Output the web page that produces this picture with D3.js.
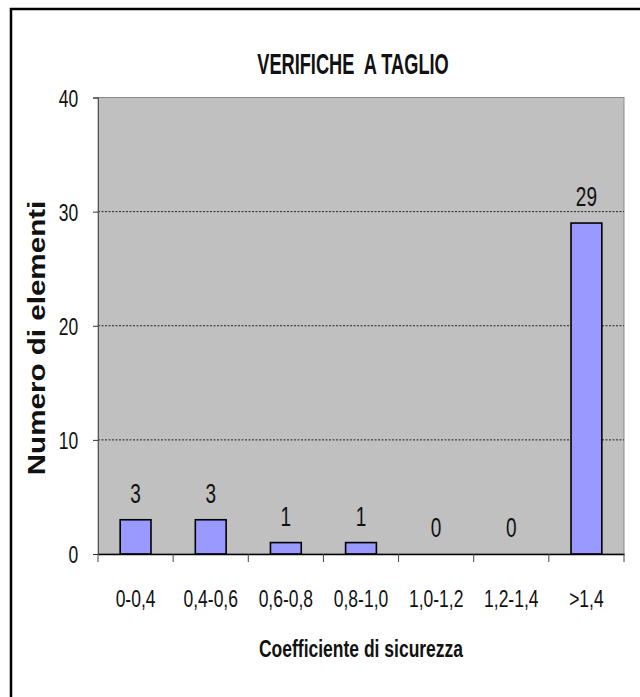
<!DOCTYPE html>
<html>
<head>
<meta charset="utf-8">
<script src="https://cdn.jsdelivr.net/npm/d3@7"></script>
<style>
  html, body { margin: 0; padding: 0; background: #fff; }
  svg { display: block; }
  text { font-family: "Liberation Sans", Arial, sans-serif; fill: #111; }
</style>
</head>
<body>
<svg id="chart" width="640" height="697"></svg>
<script>
// Shear-check results grouped by safety-factor range
const categories = ["0-0,4", "0,4-0,6", "0,6-0,8", "0,8-1,0", "1,0-1,2", "1,2-1,4", ">1,4"];
const counts = [3, 3, 1, 1, 0, 0, 29];
const yTicks = [0, 10, 20, 30, 40];
const chartTitle = "VERIFICHE  A TAGLIO";
const xTitle = "Coefficiente di sicurezza";
const yTitle = "Numero di elementi";

const svg = d3.select("#chart");

// outer chart frame
svg.append("rect")
  .attr("x", 11).attr("y", 9)
  .attr("width", 800).attr("height", 800)
  .attr("fill", "none").attr("stroke", "#000").attr("stroke-width", 2.5);

const plot = { left: 98, right: 624, top: 97.5, bottom: 554 };

const x = d3.scaleBand()
  .domain(categories)
  .range([plot.left, plot.right])
  .paddingInner(0).paddingOuter(0);

const y = d3.scaleLinear()
  .domain([0, 40])
  .range([plot.bottom, plot.top]);

// plot background
svg.append("rect")
  .attr("x", plot.left).attr("y", plot.top)
  .attr("width", plot.right - plot.left).attr("height", plot.bottom - plot.top)
  .attr("fill", "#c0c0c0").attr("stroke", "#8a8a8a").attr("stroke-width", 1);

// dashed gridlines
svg.append("g")
  .selectAll("line")
  .data(yTicks.filter(d => d > 0 && d < 40))
  .join("line")
  .attr("x1", plot.left).attr("x2", plot.right)
  .attr("y1", d => y(d)).attr("y2", d => y(d))
  .attr("stroke", "#222").attr("stroke-width", 1)
  .attr("stroke-dasharray", "2,1.5");

// bars
const barW = x.bandwidth() * 0.41;
svg.append("g")
  .selectAll("rect")
  .data(categories.map((c, i) => ({ c, v: counts[i] })))
  .join("rect")
  .attr("x", d => x(d.c) + (x.bandwidth() - barW) / 2)
  .attr("y", d => y(d.v))
  .attr("width", barW)
  .attr("height", d => y(0) - y(d.v))
  .attr("fill", "#9999ff")
  .attr("stroke", "#000").attr("stroke-width", 1.6);

// value labels
svg.append("g")
  .selectAll("text")
  .data(categories.map((c, i) => ({ c, v: counts[i] })))
  .join("text")
  .attr("transform", d => `translate(${x(d.c) + x.bandwidth() / 2},${y(d.v) - 17}) scale(1,1.45)`)
  .attr("text-anchor", "middle")
  .attr("font-size", 19)
  .text(d => d.v);

// y axis
const yAxis = svg.append("g")
  .attr("transform", `translate(${plot.left},0)`)
  .call(d3.axisLeft(y).tickValues(yTicks).tickSize(5).tickPadding(14.7));
yAxis.select(".domain").attr("stroke", "#555");
yAxis.selectAll(".tick line").attr("stroke", "#333");
yAxis.selectAll(".tick text")
  .attr("font-size", 17.5)
  .attr("fill", "#111")
  .attr("dy", "0.36em")
  .attr("transform", "scale(1,1.35)")
  .attr("y", 0);

// x axis
const xAxis = svg.append("g")
  .attr("transform", `translate(0,${plot.bottom})`)
  .call(d3.axisBottom(x).tickSize(0).tickPadding(0));
xAxis.select(".domain").attr("stroke", "#000").attr("stroke-width", 1.5);
xAxis.selectAll(".tick text")
  .attr("font-size", 17.5)
  .attr("fill", "#111")
  .attr("y", 0).attr("dy", 0)
  .attr("transform", "translate(0,52.7) scale(1,1.38)");

// tick marks at the category boundaries
const bounds = categories.map(c => x(c)).concat([plot.right]);
svg.append("g")
  .selectAll("line")
  .data(bounds)
  .join("line")
  .attr("x1", d => d).attr("x2", d => d)
  .attr("y1", plot.bottom).attr("y2", plot.bottom + 8)
  .attr("stroke", "#444").attr("stroke-width", 1);

// titles
svg.append("text")
  .attr("transform", "translate(353,74.3) scale(1,1.62)")
  .attr("text-anchor", "middle")
  .attr("font-size", 18.2)
  .attr("font-weight", "bold")
  .style("white-space", "pre")
  .text(chartTitle);

svg.append("text")
  .attr("transform", "translate(361,657) scale(1,1.38)")
  .attr("text-anchor", "middle")
  .attr("font-size", 17.5)
  .attr("font-weight", "bold")
  .text(xTitle);

svg.append("text")
  .attr("transform", "translate(45,338) rotate(-90) scale(1.27,1)")
  .attr("text-anchor", "middle")
  .attr("font-size", 23.3)
  .attr("font-weight", "bold")
  .text(yTitle);
</script>
</body>
</html>
